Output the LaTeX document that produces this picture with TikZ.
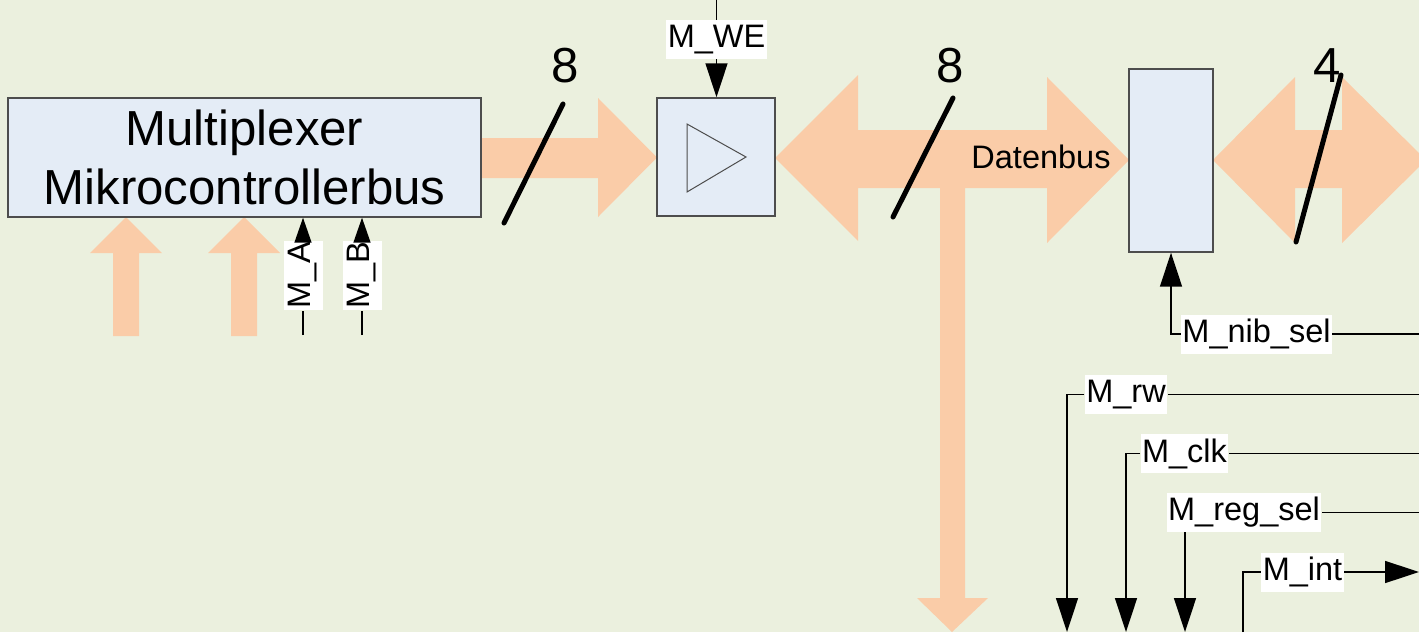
\documentclass[tikz,border=0pt]{standalone}
\usepackage{fontspec}
\setmainfont{Liberation Sans}
\usetikzlibrary{arrows.meta}
\definecolor{bgcol}{HTML}{EBF0DE}
\definecolor{boxcol}{HTML}{E4ECF6}
\definecolor{buscol}{HTML}{FACCA8}
\definecolor{framecol}{HTML}{4D4D4D}
\tikzset{
  box/.style={draw=framecol, line width=0.03cm, fill=boxcol, inner sep=0pt},
  lbl/.style={fill=white, inner xsep=0.03cm, inner ysep=0pt, minimum height=0.78cm, font=\fontsize{18.5}{22}\selectfont},
  txt/.style={inner sep=0pt, font=\fontsize{18.5}{22}\selectfont},
  big/.style={font=\fontsize{28}{33.6}\selectfont},
  sig/.style={draw=black, line width=0.03cm},
  sigarr/.style={sig, -{Triangle[length=0.68cm,width=0.44cm]}},
  bus/.style={fill=buscol},
  wd/.style={line width=0.1cm, line cap=round}
}
\begin{document}
\begin{tikzpicture}[x=0.02cm,y=-0.02cm]
  \clip (0,0) rectangle (1419,632);
  \fill[bgcol] (0,0) rectangle (1419,632);

  % buses
  \fill[bus] (481,138) -- (598,138) -- (598,98) -- (657,157.5) -- (598,217) -- (598,178) -- (481,178) -- cycle;
  \fill[bus] (775,158) -- (858,75) -- (858,130) -- (1047,130) -- (1047,77) -- (1129,160) -- (1047,243) -- (1047,188)
    -- (965,188) -- (965,598) -- (988,598) -- (952,632) -- (917,598) -- (940,598) -- (940,188)
    -- (858,188) -- (858,241) -- cycle;
  \fill[bus] (1213,160) -- (1295,77) -- (1295,130) -- (1342,130) -- (1342,77) -- (1426,160) -- (1342,243) -- (1342,188)
    -- (1295,188) -- (1295,243) -- cycle;
  \foreach \x in {126,244}
    \fill[bus] (\x-13,336) -- (\x-13,253) -- (\x-36,253) -- (\x,217) -- (\x+36,253) -- (\x+13,253) -- (\x+13,336) -- cycle;

  \node[box, minimum width=9.46cm, minimum height=2.38cm, align=center, big] (Mux) at (244.5,157.5) {Multiplexer\\Mikrocontrollerbus};
  \node[box, minimum width=2.36cm, minimum height=2.36cm] (Buffer) at (716,157) {};
  \node[box, minimum width=1.68cm, minimum height=3.66cm] (Reg) at (1171,160.5) {};
  \draw[draw=framecol, line width=0.02cm] ([shift={(-29,-33)}]Buffer.center) -- ([shift={(-29,35)}]Buffer.center)
    -- ([shift={(30,0)}]Buffer.center) -- cycle;

  \node[txt, anchor=base] (Datenbus) at (1041,168) {Datenbus};

  % bus widths
  \draw[wd] (504,223) -- (563,104);
  \draw[wd] (893,217) -- (953,98);
  \draw[wd] (1296,242) -- (1341,75);
  \node[big] (W1) at (565,66) {8};
  \node[big] (W2) at (950,66) {8};
  \node[big] (W3) at (1327,66) {4};

  % control signals
  \node[lbl] (M_WE) at (716.5,39.5) {M\_WE};
  \coordinate (WEin) at (716.5,0);
  \draw[sig] (WEin) -- (M_WE.north);
  \draw[sigarr] (M_WE.south) -- (M_WE.south |- Buffer.north);

  \node[lbl, rotate=90] (M_A) at (303,275.5) {M\_A};
  \node[lbl, rotate=90] (M_B) at (362,275.5) {M\_B};
  \coordinate (Ain) at (303,335);
  \coordinate (Bin) at (362,335);
  \draw[sig] (Ain) -- (M_A.west);
  \draw[sig] (Bin) -- (M_B.west);
  \draw[sig, -{Triangle[length=0.5cm,width=0.34cm]}] (M_A.east) -- (M_A.east |- Mux.south);
  \draw[sig, -{Triangle[length=0.5cm,width=0.34cm]}] (M_B.east) -- (M_B.east |- Mux.south);

  \node[lbl] (M_nib_sel) at (1256.5,334) {M\_nib\_sel};
  \coordinate (nibIn) at (1419,334);
  \draw[sig] (nibIn) -- (M_nib_sel.east);
  \draw[sigarr] (M_nib_sel.west) -| (Reg.south);

  \node[lbl] (M_rw) at (1126,394.5) {M\_rw};
  \coordinate (rwIn) at (1419,394.5);
  \coordinate (rwOut) at (1067,632);
  \draw[sig] (rwIn) -- (M_rw.east);
  \draw[sigarr] (M_rw.west) -| (rwOut);

  \node[lbl] (M_clk) at (1184.5,453.5) {M\_clk};
  \coordinate (clkIn) at (1419,453.5);
  \coordinate (clkOut) at (1126,632);
  \draw[sig] (clkIn) -- (M_clk.east);
  \draw[sigarr] (M_clk.west) -| (clkOut);

  \node[lbl] (M_reg_sel) at (1244,512.5) {M\_reg\_sel};
  \coordinate (selIn) at (1419,512.5);
  \coordinate (selOut) at (1185,632);
  \draw[sig] (selIn) -- (M_reg_sel.east);
  \draw[sigarr] (M_reg_sel.south -| selOut) -- (selOut);

  \node[lbl] (M_int) at (1302.5,572) {M\_int};
  \coordinate (intIn) at (1243,632);
  \coordinate (intOut) at (1419,572);
  \draw[sig] (intIn) |- (M_int.west);
  \draw[sigarr] (M_int.east) -- (intOut);
\end{tikzpicture}
\end{document}
